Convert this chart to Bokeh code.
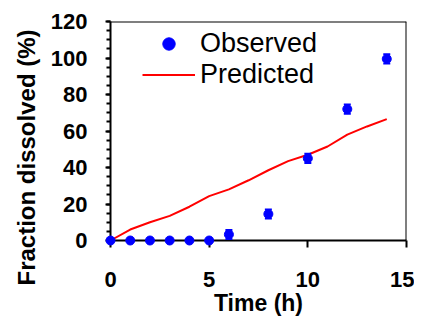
from bokeh.plotting import figure
from bokeh.models import Range1d, Span, Legend, LegendItem, Whisker, ColumnDataSource, FixedTicker, Title
from bokeh.embed import file_html
from bokeh.resources import INLINE

# Data
obs_time = [0, 1, 2, 3, 4, 5, 6, 8, 10, 12, 14]
obs_frac = [0, 0, 0, 0, 0, 0, 3.3, 14.5, 45, 72, 99.5]
obs_err = [0, 0, 0, 0, 0, 0, 2.5, 2.5, 2.5, 2.5, 2.5]
pred_time = [0, 1, 2, 3, 4, 5, 6, 7, 8, 9, 10, 11, 12, 13, 14]
pred_frac = [0, 6, 10, 13.5, 18.5, 24.3, 28, 33, 38.5, 43.5, 47, 51.5, 58, 62.5, 66.5]
x_ticks = [0, 5, 10, 15]
y_ticks = [0, 20, 40, 60, 80, 100, 120]

FONT = "Liberation Sans"

p = figure(width=414, height=321, output_backend="svg", toolbar_location=None,
           x_range=Range1d(0, 15), y_range=Range1d(0, 120),
           min_border_left=110, min_border_right=8, min_border_top=21, min_border_bottom=81)
p.outline_line_color = None
p.xgrid.visible = False
p.ygrid.visible = False
p.background_fill_color = "white"
p.border_fill_color = "white"

# axes
xa = p.xaxis[0]
xa.ticker = FixedTicker(ticks=x_ticks)
xa.axis_label = "Time (h)"
ya = p.yaxis[0]
ya.ticker = FixedTicker(ticks=y_ticks, minor_ticks=list(range(0, 121, 5)))
for ax in (xa, ya):
    ax.axis_line_color = "black"
    ax.axis_line_width = 2
    ax.major_tick_line_color = "black"
    ax.major_tick_line_width = 2
    ax.major_tick_in = 0
    ax.major_label_text_font = FONT
    ax.major_label_text_font_style = "bold"
    ax.major_label_text_font_size = "22px"
    ax.major_label_text_color = "black"
xa.axis_label_text_font = FONT
xa.axis_label_text_font_style = "bold"
xa.axis_label_text_color = "black"
xa.axis_label_text_font_size = "23px"
xa.major_tick_out = 7
xa.minor_tick_line_color = None
xa.major_label_standoff = 24
xa.axis_label_standoff = 0
ya.major_tick_out = 5
ya.minor_tick_out = 4
ya.minor_tick_in = 0
ya.minor_tick_line_color = "black"
ya.minor_tick_line_width = 2
ya.major_label_standoff = 18

# y axis title (placed lower, like the original)
ytitle = Title(text="Fraction dissolved (%)", align="left", offset=-45,
               text_font=FONT, text_font_style="bold", text_font_size="24px",
               text_color="black", standoff=16)
p.add_layout(ytitle, "left")

# frame borders (top / right)
p.add_layout(Span(location=120, dimension="width", line_color="black", line_width=2, level="overlay"))
p.add_layout(Span(location=15, dimension="height", line_color="black", line_width=2, level="overlay"))

# predicted line
pl = p.line(pred_time, pred_frac, line_color="#FF0000", line_width=2, level="overlay")

# observed error bars
eb_t = [t for t, e in zip(obs_time, obs_err) if e > 0]
eb_up = [v + e for v, e in zip(obs_frac, obs_err) if e > 0]
eb_lo = [v - e for v, e in zip(obs_frac, obs_err) if e > 0]
src = ColumnDataSource(dict(x=eb_t, upper=eb_up, lower=eb_lo))
wh = Whisker(source=src, base="x", upper="upper", lower="lower", dimension="height",
             line_color="#0000FF", line_width=2, level="overlay")
wh.upper_head.size = 7
wh.lower_head.size = 7
wh.upper_head.line_color = "#0000FF"
wh.lower_head.line_color = "#0000FF"
wh.upper_head.line_width = 2
wh.lower_head.line_width = 2
p.add_layout(wh)

# observed points
pt = p.scatter(obs_time, obs_frac, marker="circle", size=9, fill_color="#0000FF",
               line_color="#0000FF", level="overlay")

legend = Legend(items=[LegendItem(label="Observed", renderers=[pt]),
                       LegendItem(label="Predicted", renderers=[pl])],
                location=(32, 150), margin=0, padding=0, spacing=0,
                glyph_width=53, glyph_height=31, label_height=31, label_standoff=5,
                label_text_font=FONT, label_text_font_size="27px", label_text_color="black",
                border_line_color=None, background_fill_alpha=0)
p.add_layout(legend)

open("out.html", "w").write(file_html(p, INLINE))
